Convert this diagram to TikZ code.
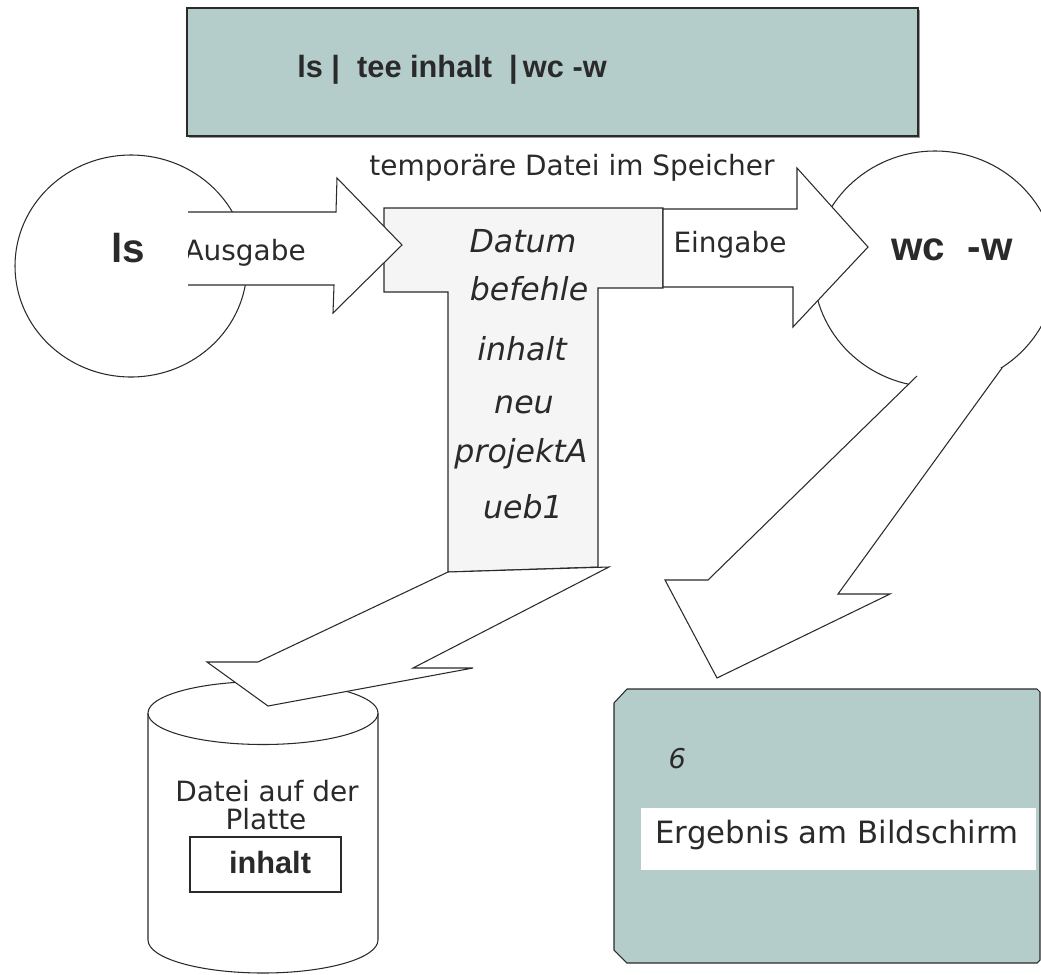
\documentclass[tikz,border=0pt]{standalone}
\usepackage{fontspec}
\setmainfont{DejaVu Sans}
\newfontfamily\libsans{Liberation Sans}
\definecolor{boxfill}{HTML}{B4CDCA}
\definecolor{tfill}{HTML}{F5F5F5}
\definecolor{lc}{HTML}{2A2A2A}
\begin{document}
\begin{tikzpicture}[x=0.02cm,y=-0.02cm,line width=0.6pt,line join=miter,
  every node/.style={inner sep=0pt,text=lc},
  reg/.style={font=\fontsize{15.9}{19}\selectfont},
  regbig/.style={font=\fontsize{17.5}{21}\selectfont},
  ital/.style={font=\itshape\fontsize{18}{21}\selectfont},
  bigbold/.style={font=\libsans\bfseries\fontsize{23}{27}\selectfont},
  cmdbold/.style={font=\libsans\bfseries\fontsize{17.5}{21}\selectfont},
  wshape/.style={draw=lc,fill=white}]
\useasboundingbox (0,0) rectangle (1041,974);
\clip (0,0) rectangle (1041,974);

% top command box
\draw[gray!80,line width=1pt] (189,137.5) -- (919.5,137.5) -- (919.5,10);
\draw[draw=lc,fill=boxfill] (187,8) rectangle (918,136);
\node[cmdbold,anchor=base] (cmd) at (452,77) {ls |~~tee inhalt~~|\,wc -w};

% circles
\draw[wshape] (131,266) ellipse [x radius=116, y radius=111];
\draw[wshape] (935,269) ellipse [x radius=121.5, y radius=118];

% T shape (temporary file)
\draw[draw=lc,fill=tfill] (384,208) -- (663,208) -- (663,288) -- (598,288) -- (598,567)
   -- (448,572) -- (448,292) -- (384,292) -- cycle;

% Ausgabe arrow
\fill[white] (188,212) -- (336,212) -- (337,178) -- (402,245) -- (333,313) -- (334,285) -- (188,285) -- cycle;
\draw[lc] (188,212) -- (336,212) -- (337,178) -- (402,245) -- (333,313) -- (334,285) -- (188,285);

% Eingabe arrow
\draw[wshape] (663,209) -- (797,209) -- (797,168) -- (868,247) -- (793,327) -- (793,287) -- (663,287) -- cycle;

% arrow from wc -w down to the screen
\fill[white] (917,376) -- (708,580) -- (665,580) -- (717,678) -- (890,594) -- (838,594) -- (1002,368) -- cycle;
\draw[lc] (917,376) -- (708,580) -- (665,580) -- (717,678) -- (890,594) -- (838,594) -- (1002,368);

% cylinder (disk file)
\draw[lc] (148,713) -- (148,940) arc[start angle=180,end angle=0,x radius=115,y radius=33] -- (378,713);
\draw[wshape] (263,713) ellipse [x radius=115, y radius=31.5];

% arrow from T down to the disk
\draw[wshape] (448,572) -- (258,662) -- (207,662) -- (268,706) -- (473,668) -- (413,668) -- (609,567) -- cycle;

% screen box
\draw[draw=lc,fill=boxfill] (627,689) -- (1037,689) -- (1040,692) -- (1040,960) -- (1037,963)
   -- (627,963) -- (614,950) -- (614,703) -- cycle;
\fill[white] (641,808) rectangle (1036,870);

% texts
\node[reg,anchor=base] (temp) at (572,175) {temporäre Datei im Speicher};
\begin{scope}
  \clip (188,200) rectangle (330,300);
  \node[reg,anchor=base west] (ausg) at (184,260) {Ausgabe};
\end{scope}
\node[reg,anchor=base west] (eing) at (673,252) {Eingabe};
\node[bigbold,anchor=base] (ls) at (128,262) {ls};
\node[bigbold,anchor=base] (wc) at (952,260) {wc~~-w};

\node[ital,anchor=base] (f1) at (523,252) {Datum};
\node[ital,anchor=base] (f2) at (529,300) {befehle};
\node[ital,anchor=base] (f3) at (522,360) {inhalt};
\node[ital,anchor=base] (f4) at (524,413) {neu};
\node[ital,anchor=base] (f5) at (521,462) {projektA};
\node[ital,anchor=base] (f6) at (523,518) {ueb1};

\node[reg,anchor=base] (dat1) at (267,801) {Datei auf der};
\node[reg,anchor=base] (dat2) at (266,829) {Platte};
\draw[lc] (190,837) rectangle (341,892);
\node[cmdbold,anchor=base] (inh) at (270,873) {inhalt};

\node[ital,anchor=base west,font=\itshape\fontsize{15.5}{18}\selectfont] (six) at (668,768) {6};
\node[regbig,anchor=base west] (erg) at (655,843) {Ergebnis am Bildschirm};
\end{tikzpicture}
\end{document}
